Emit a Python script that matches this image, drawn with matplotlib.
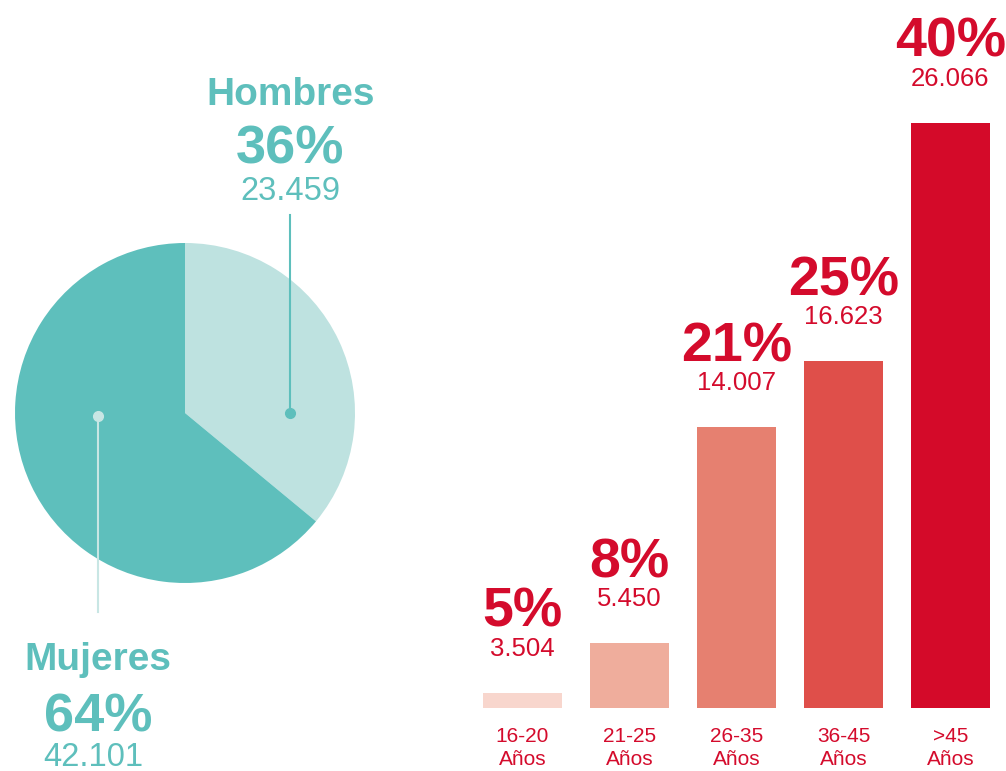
import matplotlib.pyplot as plt

# --- data ---
sexo = ["Hombres", "Mujeres"]
sexo_pct = [36, 64]
sexo_n = ["23.459", "42.101"]

edades = ["16-20", "21-25", "26-35", "36-45", ">45"]
edad_pct = [5, 8, 21, 25, 40]
edad_n = [3504, 5450, 14007, 16623, 26066]

# --- colours ---
teal = "#5ebfbc"
teal_light = "#bee2e0"
red = "#d40b2c"
bar_colors = ["#f8d6cd", "#efad9c", "#e68070", "#df4f4a", "#d40a29"]

plt.rcParams["font.family"] = ["Liberation Sans", "DejaVu Sans"]

W, H = 1006, 771
fig = plt.figure(figsize=(W / 100, H / 100), dpi=100)

# --- pie: gender ---
ax1 = fig.add_axes([15 / W, 1 - 583 / H, 340 / W, 340 / H])
ax1.pie(sexo_pct, colors=[teal_light, teal], startangle=90, counterclock=False,
        radius=1, wedgeprops=dict(linewidth=0))
ax1.set_xlim(-1, 1)
ax1.set_ylim(-1, 1)
ax1.set_aspect("equal")
ax1.axis("off")

# leader lines + labels (pie axis units, radius = 1 -> 170 px)
hx, hy = 0.62, 0.0
ax1.plot([hx, hx], [hy, 1.165], color=teal, lw=1.5, clip_on=False)
ax1.plot(hx, hy, "o", color=teal, ms=7, clip_on=False)
ax1.text(hx, 1.81, sexo[0], color=teal, fontsize=28, fontweight="bold",
         ha="center", va="baseline")
ax1.text(hx, 1.47, f"{sexo_pct[0]}%", color=teal, fontsize=39, fontweight="bold",
         ha="center", va="baseline")
ax1.text(hx, 1.255, sexo_n[0], color=teal, fontsize=23.5,
         ha="center", va="baseline")

mx, my = -0.51, -0.02
ax1.plot([mx, mx], [my, -1.17], color="#c8e6e4", lw=1.5, clip_on=False)
ax1.plot(mx, my, "o", color="#c8e6e4", ms=7, clip_on=False)
ax1.text(mx, -1.51, sexo[1], color=teal, fontsize=28, fontweight="bold",
         ha="center", va="baseline")
ax1.text(mx, -1.875, f"{sexo_pct[1]}%", color=teal, fontsize=39, fontweight="bold",
         ha="center", va="baseline")
ax1.text(mx - 0.03, -2.075, sexo_n[1], color=teal, fontsize=23.5,
         ha="center", va="baseline")

# --- bars: age ---
base = 2890
top = base + (max(edad_n) - base) * 708 / 585
ax2 = fig.add_axes([469 / W, 1 - 708 / H, 535 / W, 708 / H])
x = range(len(edades))
ax2.bar(x, edad_n, width=0.74, color=bar_colors, linewidth=0)
ax2.set_xlim(-0.5, len(edades) - 0.5)
ax2.set_ylim(base, top)
ax2.axis("off")

for i, (p, n) in enumerate(zip(edad_pct, edad_n)):
    ax2.annotate(f"{p}%", xy=(i, n), xytext=(0, 66 * 0.72), textcoords="offset points",
                 color=red, fontsize=40, fontweight="bold", ha="center", va="baseline")
    ax2.annotate(f"{n:,}".replace(",", "."), xy=(i, n), xytext=(0, 37 * 0.72),
                 textcoords="offset points", color=red, fontsize=18.5,
                 ha="center", va="baseline")
    ax2.annotate(edades[i], xy=(i, 0), xycoords=("data", "axes fraction"),
                 xytext=(0, -34 * 0.72), textcoords="offset points", color=red,
                 fontsize=15, ha="center", va="baseline", annotation_clip=False)
    ax2.annotate("Años", xy=(i, 0), xycoords=("data", "axes fraction"),
                 xytext=(0, -57 * 0.72), textcoords="offset points", color=red,
                 fontsize=15, ha="center", va="baseline", annotation_clip=False)

fig.savefig("out.png", dpi=100)
